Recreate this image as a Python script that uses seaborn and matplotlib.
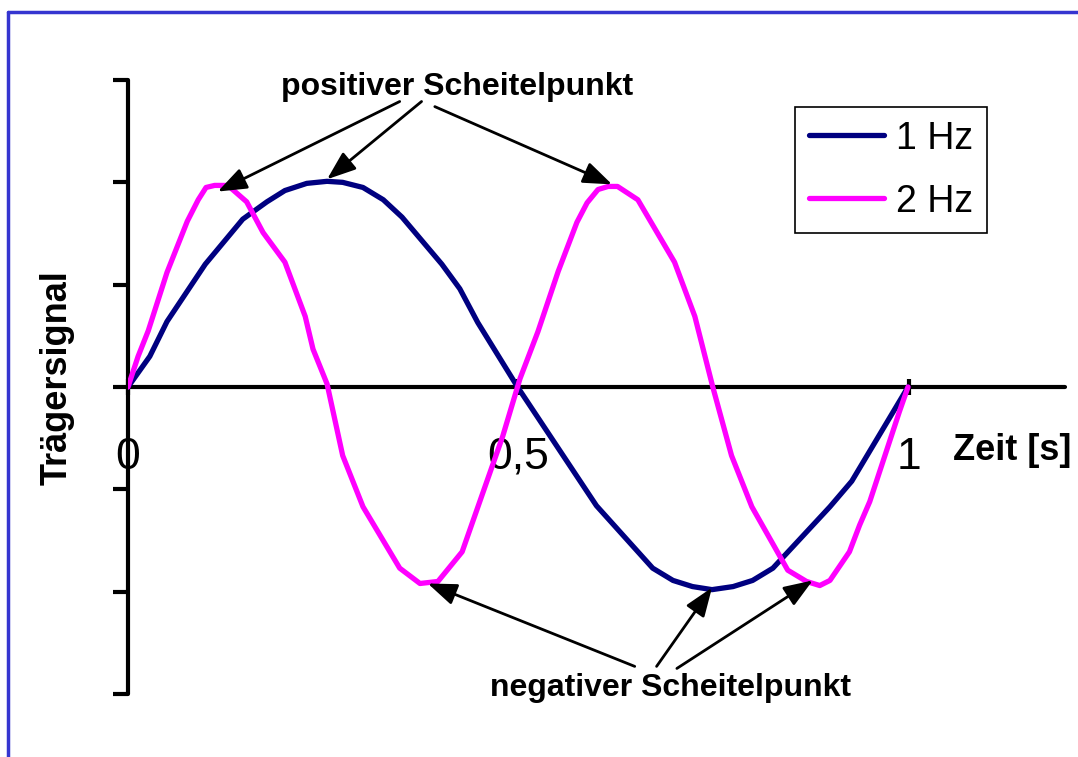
import pandas as pd
import seaborn as sns
import matplotlib.pyplot as plt
from matplotlib.lines import Line2D

# Curve vertices (time in s, signal)
t_1hz = [0, 0.028, 0.05, 0.099, 0.147, 0.178, 0.201, 0.229, 0.255, 0.275, 0.301,
         0.327, 0.351, 0.402, 0.425, 0.448, 0.499, 0.6, 0.672, 0.698, 0.723, 0.748,
         0.775, 0.8, 0.826, 0.899, 0.927, 0.999]
y_1hz = [0, 0.30, 0.64, 1.20, 1.64, 1.81, 1.92, 1.99, 2.01, 2.00, 1.95,
         1.83, 1.66, 1.20, 0.96, 0.63, 0, -1.16, -1.77, -1.89, -1.95, -1.98,
         -1.95, -1.89, -1.77, -1.17, -0.92, 0]

t_2hz = [0, 0.013, 0.026, 0.050, 0.076, 0.090, 0.100, 0.111, 0.128, 0.152, 0.173,
         0.201, 0.227, 0.237, 0.255, 0.275, 0.301, 0.348, 0.374, 0.397, 0.428, 0.451,
         0.480, 0.502, 0.525, 0.551, 0.575, 0.588, 0.602, 0.615, 0.627, 0.653, 0.700,
         0.726, 0.749, 0.773, 0.799, 0.845, 0.869, 0.886, 0.899, 0.924, 0.937, 0.950,
         0.988, 0.999]
y_2hz = [0, 0.30, 0.55, 1.12, 1.62, 1.83, 1.95, 1.97, 1.97, 1.81, 1.51,
         1.22, 0.69, 0.37, 0.03, -0.67, -1.17, -1.77, -1.92, -1.90, -1.61, -1.11,
         -0.48, 0.08, 0.54, 1.13, 1.61, 1.80, 1.93, 1.96, 1.96, 1.83, 1.22,
         0.69, 0.0, -0.67, -1.17, -1.79, -1.90, -1.94, -1.89, -1.61, -1.35, -1.12,
         -0.24, 0]

series_labels = ['1 Hz', '2 Hz']
x_ticks = [0, 0.5, 1]
x_tick_labels = ['0', '0,5', '1']

df1 = pd.DataFrame({'Zeit': t_1hz, 'Signal': y_1hz})
df2 = pd.DataFrame({'Zeit': t_2hz, 'Signal': y_2hz})

sns.set_style('white')
plt.rcParams['font.family'] = ['Liberation Sans', 'DejaVu Sans']
plt.rcParams['text.color'] = 'black'
plt.rcParams['axes.labelcolor'] = 'black'
plt.rcParams['xtick.color'] = 'black'
plt.rcParams['ytick.color'] = 'black'

fig = plt.figure(figsize=(10.78, 7.57), dpi=100)
ax = fig.add_axes([0.1187, 0.0832, 0.8692, 0.8111])

sns.lineplot(data=df1, x='Zeit', y='Signal', ax=ax, color='#000080', linewidth=3.8,
             sort=False, estimator=None, label=series_labels[0], zorder=3)
sns.lineplot(data=df2, x='Zeit', y='Signal', ax=ax, color='#FF00FF', linewidth=3.8,
             sort=False, estimator=None, label=series_labels[1], zorder=3)

ax.set_xlim(0, 1.2)
ax.set_ylim(-3, 3)

# axes: y axis on the left, x axis through zero
for s in ['top', 'right']:
    ax.spines[s].set_visible(False)
ax.spines['bottom'].set_position(('data', 0))
for s in ['left', 'bottom']:
    ax.spines[s].set_linewidth(3)
    ax.spines[s].set_color('black')
    ax.spines[s].set_capstyle('round')

ax.set_yticks([-3, -2, -1, 0, 1, 2, 3])
ax.set_yticklabels([])
ax.tick_params(axis='y', direction='out', length=11, width=3, color='black', left=True)
ax.set_xticks(x_ticks)
ax.set_xticklabels(x_tick_labels)
ax.tick_params(axis='x', direction='inout', length=11.5, width=3, color='black',
               bottom=True, labelsize=32, pad=30, labelcolor='black')

ax.set_xlabel('')
ax.set_ylabel('Trägersignal', fontsize=26, fontweight='bold', color='black')
ax.yaxis.set_label_coords(-0.0566, 0.515)
ax.text(1.132, -0.62, 'Zeit [s]', fontsize=26, fontweight='bold', ha='center',
        va='center', color='black')

# annotations
arrow = dict(arrowstyle='-|>,head_length=0.8,head_width=0.3', mutation_scale=22,
             lw=2, color='black', shrinkA=0, shrinkB=0)
ax.text(0.421, 2.93, 'positiver Scheitelpunkt', fontsize=23, fontweight='bold',
        ha='center', va='center', color='black')
for start, tip in [((0.348, 2.79), (0.115, 1.91)),
                   ((0.376, 2.79), (0.255, 2.03)),
                   ((0.393, 2.74), (0.620, 1.98))]:
    ax.annotate('', xy=tip, xytext=start, arrowprops=arrow)
ax.text(0.695, -2.94, 'negativer Scheitelpunkt', fontsize=23, fontweight='bold',
        ha='center', va='center', color='black')
for start, tip in [((0.649, -2.73), (0.384, -1.92)),
                   ((0.677, -2.73), (0.748, -1.96)),
                   ((0.703, -2.75), (0.877, -1.89))]:
    ax.annotate('', xy=tip, xytext=start, arrowprops=arrow)

leg = ax.legend(loc='upper left', bbox_to_anchor=(0.712, 0.956), fontsize=27,
                frameon=True, fancybox=False, framealpha=1, edgecolor='black',
                handlelength=2.0, handletextpad=0.33, borderpad=0.36,
                labelspacing=0.72, borderaxespad=0)
leg.get_frame().set_linewidth(1.2)
for txt in leg.get_texts():
    txt.set_color('black')

# blue frame around the picture (left and top edges only)
fig.add_artist(Line2D([8 / 1078, 8 / 1078], [0, 1 - 11.5 / 757], color='#3535D0', lw=2.5))
fig.add_artist(Line2D([8 / 1078, 1], [1 - 11.5 / 757, 1 - 11.5 / 757], color='#3535D0', lw=2.5))

fig.savefig('out.png', dpi=100)
